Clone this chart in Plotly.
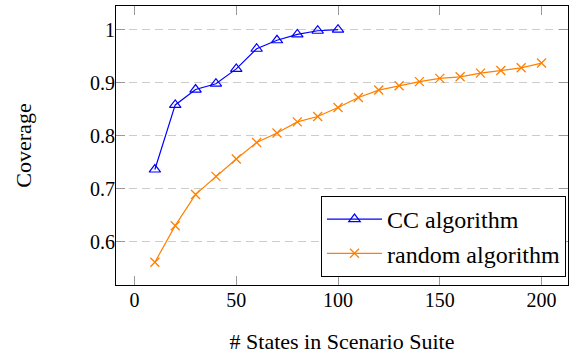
import plotly.graph_objects as go

cc_x = [10, 20, 30, 40, 50, 60, 70, 80, 90, 100]
cc_y = [0.736, 0.858, 0.887, 0.898, 0.926, 0.964, 0.980, 0.991, 0.998, 1.0]

rand_x = [10, 20, 30, 40, 50, 60, 70, 80, 90, 100, 110, 120, 130, 140, 150, 160, 170, 180, 190, 200]
rand_y = [0.561, 0.630, 0.689, 0.723, 0.756, 0.787, 0.805, 0.826, 0.836, 0.853,
          0.872, 0.886, 0.894, 0.902, 0.908, 0.911, 0.918, 0.923, 0.928, 0.937]

x_ticks = [0, 50, 100, 150, 200]
y_ticks = [0.6, 0.7, 0.8, 0.9, 1.0]
y_tick_labels = ["0.6", "0.7", "0.8", "0.9", "1"]

FONT = "Liberation Serif"
fig = go.Figure()
fig.add_trace(go.Scatter(
    x=cc_x, y=cc_y, mode="lines+markers", name="CC algorithm",
    line=dict(color="#0000ff", width=1.2),
    marker=dict(symbol="triangle-up-open", size=10, color="#0000ff", line=dict(width=1.2)),
))
fig.add_trace(go.Scatter(
    x=rand_x, y=rand_y, mode="lines+markers", name="random algorithm",
    line=dict(color="#ff8000", width=1.2),
    marker=dict(symbol="x-thin", size=9, color="#ff8000", line=dict(width=1.3, color="#ff8000")),
))

fig.update_layout(
    width=578, height=358,
    margin=dict(l=116, r=10, t=6, b=73, autoexpand=False),
    paper_bgcolor="white", plot_bgcolor="white",
    font=dict(family=FONT, size=20, color="black"),
    showlegend=True,
    legend=dict(
        x=0.9956, y=0.0287, xanchor="right", yanchor="bottom",
        bordercolor="black", borderwidth=1, bgcolor="white",
        font=dict(family=FONT, size=24), tracegroupgap=0, itemwidth=55,
    ),
    xaxis=dict(
        range=[-9.1, 213], tickvals=x_ticks, showgrid=False, zeroline=False,
        showline=True, linecolor="black", linewidth=1, mirror="ticks",
        ticks="inside", ticklen=9, tickcolor="#999999", tickwidth=1,
        ticklabelstandoff=-3,
        title=dict(text="# States in Scenario Suite", standoff=23, font=dict(size=22)),
        tickfont=dict(size=20), automargin=False,
    ),
    yaxis=dict(
        range=[0.518, 1.0447], tickvals=y_ticks, ticktext=y_tick_labels,
        showgrid=True, gridcolor="#cccccc", griddash="8px,5px", gridwidth=1,
        zeroline=False,
        showline=True, linecolor="black", linewidth=1, mirror="ticks",
        ticks="inside", ticklen=9, tickcolor="#999999", tickwidth=1,
        ticklabelstandoff=-4,
        title=dict(text="Coverage", standoff=52, font=dict(size=22)),
        tickfont=dict(size=20), automargin=False,
    ),
)

fig.write_html("out.html", config={"displayModeBar": False},
               post_script="document.body.style.margin='0px';")
